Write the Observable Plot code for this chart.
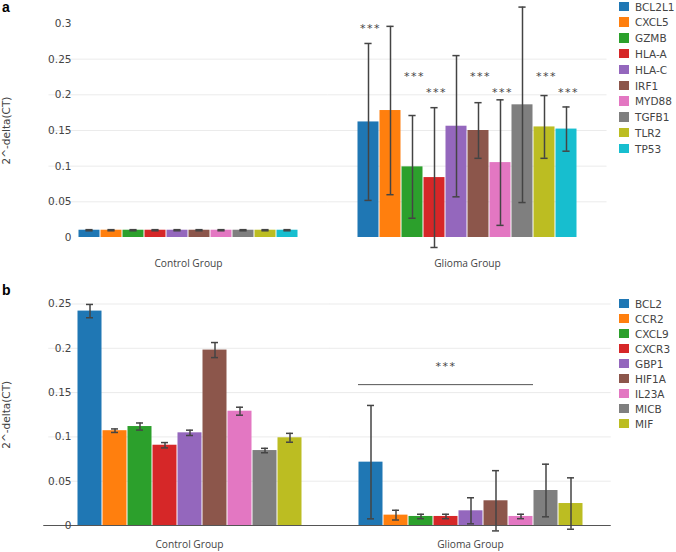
<!DOCTYPE html>
<html>
<head>
<meta charset="utf-8">
<script src="https://cdn.jsdelivr.net/npm/d3@7"></script>
<script src="https://cdn.jsdelivr.net/npm/@observablehq/plot@0.6"></script>
<style>
  html, body { margin: 0; padding: 0; background: #fff; }
  #root { position: relative; width: 676px; height: 552px; overflow: hidden; background: #fff; }
  .panel { position: absolute; left: 0; }
  .tag { position: absolute; font: bold 14px "Liberation Sans", Arial, sans-serif; color: #000; line-height: 1; }
  .leg { position: absolute; font: 10.5px "DejaVu Sans", sans-serif; color: #444; white-space: nowrap; line-height: 1; }
  .leg .sw { position: absolute; width: 9.5px; height: 9.5px; }
  .leg .lb { position: absolute; left: 16px; }
</style>
</head>
<body>
<div id="root"></div>
<script>
// ---------- data ----------
const groups = ["Control Group", "Glioma Group"];
const palette = ["#1f77b4", "#ff7f0e", "#2ca02c", "#d62728", "#9467bd", "#8c564b", "#e377c2", "#7f7f7f", "#bcbd22", "#17becf"];

// Panel a
const genesA = ["BCL2L1", "CXCL5", "GZMB", "HLA-A", "HLA-C", "IRF1", "MYD88", "TGFB1", "TLR2", "TP53"];
const controlA = [0.0102, 0.0102, 0.0102, 0.0102, 0.0102, 0.0102, 0.0102, 0.0102, 0.0102, 0.0102];
const controlErrA = [0.0008, 0.0008, 0.0008, 0.0008, 0.0008, 0.0008, 0.0008, 0.0008, 0.0008, 0.0008];
const gliomaA = [0.162, 0.178, 0.099, 0.084, 0.156, 0.150, 0.105, 0.186, 0.155, 0.152];
const gliomaErrA = [0.110, 0.118, 0.072, 0.098, 0.099, 0.039, 0.088, 0.137, 0.044, 0.031];
const starGenesA = ["BCL2L1", "GZMB", "HLA-A", "IRF1", "MYD88", "TLR2", "TP53"];
const starYA = [0.293, 0.226, 0.203, 0.226, 0.203, 0.226, 0.203];
const ticksA = [0, 0.05, 0.1, 0.15, 0.2, 0.25, 0.3];
const gridA = [0.05, 0.1, 0.15, 0.2, 0.25];

// Panel b
const genesB = ["BCL2", "CCR2", "CXCL9", "CXCR3", "GBP1", "HIF1A", "IL23A", "MICB", "MIF"];
const controlB = [0.242, 0.107, 0.1117, 0.0906, 0.1046, 0.198, 0.129, 0.0846, 0.099];
const controlErrB = [0.0075, 0.002, 0.004, 0.003, 0.003, 0.0085, 0.0045, 0.0025, 0.005];
const gliomaB = [0.0715, 0.0117, 0.0102, 0.0102, 0.0166, 0.0279, 0.0102, 0.0395, 0.0248];
const gliomaErrB = [0.064, 0.0055, 0.0025, 0.0025, 0.0147, 0.034, 0.0025, 0.0297, 0.029];
const sigLineB = [{group: "Glioma Group", from: "BCL2", to: "IL23A", y: 0.159}];
const sigStarB = [{group: "Glioma Group", gene: "CXCR3", y: 0.179}];
const ticksB = [0, 0.05, 0.1, 0.15, 0.2, 0.25];
const gridB = [0.05, 0.1, 0.15, 0.2, 0.25];

// ---------- helpers ----------
function rowsOf(genes, ctrl, ctrlErr, glio, glioErr) {
  const rows = [];
  genes.forEach((g, i) => rows.push({group: groups[0], gene: g, value: ctrl[i], err: ctrlErr[i]}));
  genes.forEach((g, i) => rows.push({group: groups[1], gene: g, value: glio[i], err: glioErr[i]}));
  return rows;
}

const errColor = "#444";
const PAD_IN = 0.19, PAD_OUT = PAD_IN / 2;

function makePanel(o) {
  const rows = rowsOf(o.genes, o.ctrl, o.ctrlErr, o.glio, o.glioErr);
  const plotW = 676 - 48 - o.marginRight;
  const step = plotW / (groups.length - PAD_IN + 2 * PAD_OUT);
  const outer = step * PAD_OUT; // half of gap between facets
  const marks = [
    Plot.ruleY(o.grid, {stroke: "#ebebeb", strokeWidth: 1, insetLeft: -outer, insetRight: -outer}),
    Plot.barY(rows, {fx: "group", x: "gene", y: "value", fill: "gene", insetLeft: 0.5, insetRight: 0.5}),
    Plot.ruleX(rows, {fx: "group", x: "gene", y1: d => d.value - d.err, y2: d => d.value + d.err, stroke: errColor, strokeWidth: 1.5}),
    Plot.tickY(rows, {fx: "group", x: "gene", y: d => d.value - d.err, stroke: errColor, strokeWidth: 1.5, inset: o.capInset}),
    Plot.tickY(rows, {fx: "group", x: "gene", y: d => d.value + d.err, stroke: errColor, strokeWidth: 1.5, inset: o.capInset}),
    Plot.axisY({ticks: o.ticks, tickSize: 0, tickPadding: 4, tickFormat: d => String(d),
      label: "2^-delta(CT)", labelAnchor: "center", labelArrow: "none", labelOffset: o.labelOffset,
      fontSize: 10.5, fill: "#444", fontFamily: "DejaVu Sans"}),
    Plot.axisFx({anchor: "bottom", tickSize: 0, tickPadding: o.fxPad, label: null, fontFamily: "Open Sans", fontSize: 10.2, fill: "#444"})
  ];
  if (o.zero) marks.splice(1, 0, Plot.ruleY([0], {stroke: "#555", strokeWidth: 1.2, insetLeft: -outer - 5, insetRight: -outer}));
  if (o.extra) marks.push(...o.extra);
  return Plot.plot({
    width: 676,
    height: o.height,
    marginLeft: 48,
    marginRight: o.marginRight,
    marginTop: o.marginTop,
    marginBottom: o.marginBottom,
    style: {fontFamily: "DejaVu Sans", fontSize: "10.5px", color: "#444", background: "transparent", overflow: "visible"},
    fx: {domain: groups, paddingInner: PAD_IN, paddingOuter: PAD_OUT, label: null, axis: null},
    x: {domain: o.genes, padding: 0, axis: null},
    y: {domain: o.yDomain, axis: null},
    color: {domain: o.genes, range: palette},
    marks
  });
}

const starsA = starGenesA.map((g, i) => ({group: groups[1], gene: g, y: starYA[i]}));

const plotA = makePanel({
  genes: genesA, ctrl: controlA, ctrlErr: controlErrA, glio: gliomaA, glioErr: gliomaErrA,
  ticks: ticksA, grid: gridA, yDomain: [0, 0.3],
  height: 270, marginTop: 23, marginBottom: 33, marginRight: 69,
  capInset: 7.4, labelOffset: 72.5, fxPad: 22, zero: false,
  extra: [
    Plot.text(starsA, {fx: "group", x: "gene", y: "y", text: () => "***", dx: 2, fontSize: 11, fill: "#444", lineAnchor: "middle"})
  ]
});

const plotB = makePanel({
  genes: genesB, ctrl: controlB, ctrlErr: controlErrB, glio: gliomaB, glioErr: gliomaErrB,
  ticks: ticksB, grid: gridB, yDomain: [0, 0.25],
  height: 282, marginTop: 33.5, marginBottom: 27, marginRight: 65,
  capInset: 9, labelOffset: 72.5, fxPad: 15, zero: true,
  extra: [
    Plot.ruleY(sigLineB, {fx: "group", x1: "from", x2: "to", y: "y", stroke: "#555", strokeWidth: 1}),
    Plot.text(sigStarB, {fx: "group", x: "gene", y: "y", text: () => "***", fontSize: 11, fill: "#444", lineAnchor: "middle"})
  ]
});

const root = document.getElementById("root");
function place(node, top) {
  node.classList.add("panel");
  node.style.top = top + "px";
  root.appendChild(node);
}
place(plotA, 0);
place(plotB, 270);

// letter spacing on stars
[plotA, plotB].forEach(p => p.querySelectorAll("text").forEach(t => { if (t.textContent === "***") t.setAttribute("letter-spacing", "1.5"); }));

function tag(txt, x, y) {
  const d = document.createElement("div");
  d.className = "tag"; d.textContent = txt;
  d.style.left = x + "px"; d.style.top = y + "px";
  root.appendChild(d);
}
tag("a", 2, 0);
tag("b", 2, 283);

function legend(plot, genes, left, top0, step) {
  const sc = plot.scale("color");
  genes.forEach((g, i) => {
    const row = document.createElement("div");
    row.className = "leg";
    row.style.left = left + "px";
    row.style.top = (top0 + i * step) + "px";
    const sw = document.createElement("div");
    sw.className = "sw";
    sw.style.background = sc.range[sc.domain.indexOf(g)];
    sw.style.top = "0px";
    const lb = document.createElement("div");
    lb.className = "lb"; lb.textContent = g; lb.style.top = "0px";
    row.appendChild(sw); row.appendChild(lb);
    root.appendChild(row);
  });
}
legend(plotA, genesA, 619, 1.5, 15.8);
legend(plotB, genesB, 619, 298.5, 15);
</script>
</body>
</html>
